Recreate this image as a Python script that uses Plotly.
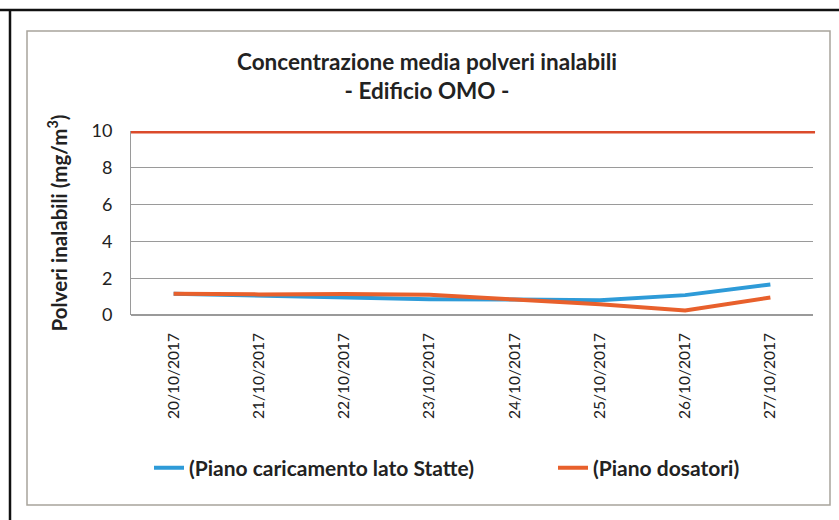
import plotly.graph_objects as go

dates = ["20/10/2017", "21/10/2017", "22/10/2017", "23/10/2017",
         "24/10/2017", "25/10/2017", "26/10/2017", "27/10/2017"]
statte = [1.16, 1.05, 0.97, 0.85, 0.84, 0.80, 1.08, 1.66]
dosatori = [1.16, 1.12, 1.14, 1.10, 0.84, 0.58, 0.24, 0.95]
limit_value = 10
y_ticks = [0, 2, 4, 6, 8, 10]

FONT = "Lato"
L, R, T, B = 131, 26, 131, 205
PW = 839 - L - R
PH = 520 - T - B


def px(x):
    return (x - L) / PW


def py(y):
    return (520 - B - y) / PH


fig = go.Figure()
fig.add_trace(go.Scatter(x=dates, y=statte, mode="lines",
                         name="<b>(Piano caricamento lato Statte)</b>",
                         line=dict(color="#2E9BD8", width=4), legend="legend"))
fig.add_trace(go.Scatter(x=dates, y=dosatori, mode="lines",
                         name="<b>(Piano dosatori)</b>",
                         line=dict(color="#E8602C", width=4), legend="legend2"))
fig.add_shape(type="line", xref="paper", yref="y", x0=0, x1=1.003,
              y0=limit_value, y1=limit_value,
              line=dict(color="#DB4B2B", width=5), layer="above")

# frames
fig.add_shape(type="line", xref="paper", yref="paper",
              x0=px(0), x1=px(839), y0=py(10), y1=py(10),
              line=dict(color="#111", width=2.5))
fig.add_shape(type="line", xref="paper", yref="paper",
              x0=px(10), x1=px(10), y0=py(10), y1=py(522),
              line=dict(color="#111", width=2.5))
fig.add_shape(type="rect", xref="paper", yref="paper",
              x0=px(27), x1=px(830), y0=py(31), y1=py(505),
              line=dict(color="#A8A49C", width=1.5))

leg_common = dict(orientation="h", xanchor="left", y=py(468), yanchor="middle",
                  font=dict(size=21, family=FONT, color="#222"),
                  bgcolor="rgba(0,0,0,0)")

fig.update_layout(
    width=839, height=520,
    margin=dict(l=L, r=R, t=T, b=B),
    paper_bgcolor="white", plot_bgcolor="white",
    font=dict(family=FONT, color="#222"),
    title=dict(text="<b>Concentrazione media polveri inalabili</b><br><b>- Edificio OMO -</b>",
               x=427 / 839, xanchor="center", xref="container",
               y=1 - 70 / 520, yanchor="middle", yref="container",
               font=dict(size=22.5, family=FONT, color="#222")),
    xaxis=dict(type="category", tickangle=-90, showgrid=False,
               range=[-0.5, len(dates) - 0.5], automargin=False,
               tickfont=dict(size=15.5, family=FONT, color="#222"),
               ticklabelstandoff=14,
               showline=False, ticks="", zeroline=False),
    yaxis=dict(range=[0, 10], tickvals=y_ticks, showgrid=True, automargin=False,
               gridcolor="#9A9A9A", gridwidth=1,
               showline=True, linecolor="#9A9A9A", linewidth=1,
               tickfont=dict(size=18, family=FONT, color="#222"),
               ticklabelstandoff=14,
               ticks="", zeroline=True, zerolinecolor="#9A9A9A",
               title=dict(text="<b>Polveri inalabili (mg/m<sup>3</sup>)</b>",
                          font=dict(size=20.5, family=FONT, color="#222"), standoff=18)),
    legend=dict(x=px(149), **leg_common),
    legend2=dict(x=px(553), **leg_common),
    showlegend=True,
)

fig.write_html("out.html", config={"displayModeBar": False},
               post_script="document.body.style.margin='0px';")
